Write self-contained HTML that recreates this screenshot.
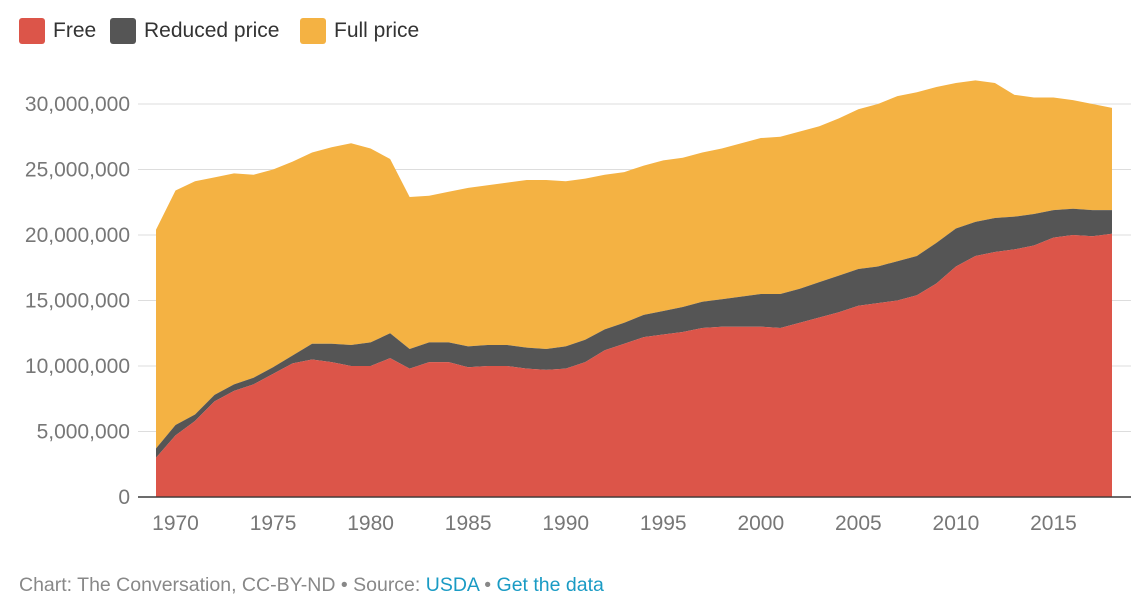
<!DOCTYPE html>
<html><head><meta charset="utf-8"><style>
body{margin:0;background:#fff;font-family:"Liberation Sans",sans-serif;}
#wrap{position:relative;width:1147px;height:595px;overflow:hidden}
.leg{position:absolute;top:18px;display:flex;align-items:center;font-size:21px;color:#333}
.sw{width:26px;height:26px;border-radius:3px;margin-right:8px}
#foot{position:absolute;left:19px;top:574px;font-size:19.5px;color:#888}
#foot a{color:#1a9bc4;text-decoration:none}
</style></head><body>
<div id="wrap">
<div class="leg" style="left:19px"><div class="sw" style="background:#dc5549"></div>Free</div>
<div class="leg" style="left:110px"><div class="sw" style="background:#555"></div>Reduced price</div>
<div class="leg" style="left:300px"><div class="sw" style="background:#f4b243"></div>Full price</div>
<svg id="svg" width="1147" height="595" style="position:absolute;left:0;top:0"></svg>
<div id="foot">Chart: The Conversation, CC-BY-ND • Source: <a>USDA</a> • <a>Get the data</a></div>
</div>
<script>
const years=[];for(let y=1969;y<=2018;y++)years.push(y);
const freeM=[3.0,4.7,5.8,7.3,8.1,8.6,9.4,10.2,10.5,10.3,10.0,10.0,10.6,9.8,10.3,10.3,9.9,10.0,10.0,9.8,9.7,9.8,10.3,11.2,11.7,12.2,12.4,12.6,12.9,13.0,13.0,13.0,12.9,13.3,13.7,14.1,14.6,14.8,15.0,15.4,16.3,17.6,18.4,18.7,18.9,19.2,19.8,20.0,19.9,20.1];
const reducedM=[0.7,0.8,0.5,0.5,0.5,0.5,0.5,0.6,1.2,1.4,1.6,1.8,1.9,1.5,1.5,1.5,1.6,1.6,1.6,1.6,1.6,1.7,1.7,1.6,1.6,1.7,1.8,1.9,2.0,2.1,2.3,2.5,2.6,2.6,2.7,2.8,2.8,2.8,3.0,3.0,3.1,2.9,2.6,2.6,2.5,2.4,2.1,2.0,2.0,1.8];
const fullM=[16.7,17.9,17.8,16.6,16.1,15.5,15.1,14.8,14.6,15.0,15.4,14.8,13.3,11.6,11.2,11.5,12.1,12.2,12.4,12.8,12.9,12.6,12.3,11.8,11.5,11.4,11.5,11.4,11.4,11.5,11.7,11.9,12.0,12.0,11.9,12.0,12.2,12.4,12.6,12.5,11.9,11.1,10.8,10.3,9.3,8.9,8.6,8.3,8.1,7.8];
const yTicks=[0,5,10,15,20,25,30];
const xTicks=[1970,1975,1980,1985,1990,1995,2000,2005,2010,2015];
const NS="http://www.w3.org/2000/svg",svg=document.getElementById('svg');
const x=y=>156+(y-1969)*(1112-156)/49;
const yv=v=>497-v*(497-104)/30;
function mk(t,a){const e=document.createElementNS(NS,t);for(const k in a)e.setAttribute(k,a[k]);svg.appendChild(e);return e;}
yTicks.forEach(t=>{
 const l=mk('line',{x1:138,x2:1131,y1:yv(t),y2:yv(t),stroke:t?'#ddd':'#333','stroke-width':t?1:1.3});
 
 
 const tx=mk('text',{x:130,y:yv(t)+7,'text-anchor':'end','font-size':21,fill:'#777'});
 tx.textContent=t?(t*1000000).toLocaleString('en-US'):'0';
 
 
});
const c1=freeM,c2=freeM.map((v,i)=>v+reducedM[i]),c3=c2.map((v,i)=>v+fullM[i]);
function area(top,bot,col,name){
 let d='M'+years.map((yr,i)=>x(yr)+','+yv(top[i])).join('L');
 for(let i=years.length-1;i>=0;i--)d+='L'+x(years[i])+','+yv(bot?bot[i]:0);
 const p=mk('path',{d:d+'Z',fill:col});
 
 
}
area(c3,c2,'#f4b243','area-full-price');
area(c2,c1,'#555555','area-reduced-price');
area(c1,null,'#dc5549','area-free');
mk('line',{x1:138,x2:1131,y1:497,y2:497,stroke:'#333','stroke-width':1.3});
xTicks.forEach(t=>{
 const tx=mk('text',{x:x(t),y:530,'text-anchor':'middle','font-size':21,fill:'#777'});
 tx.textContent=t;
 
 
});
</script>
</body></html>
